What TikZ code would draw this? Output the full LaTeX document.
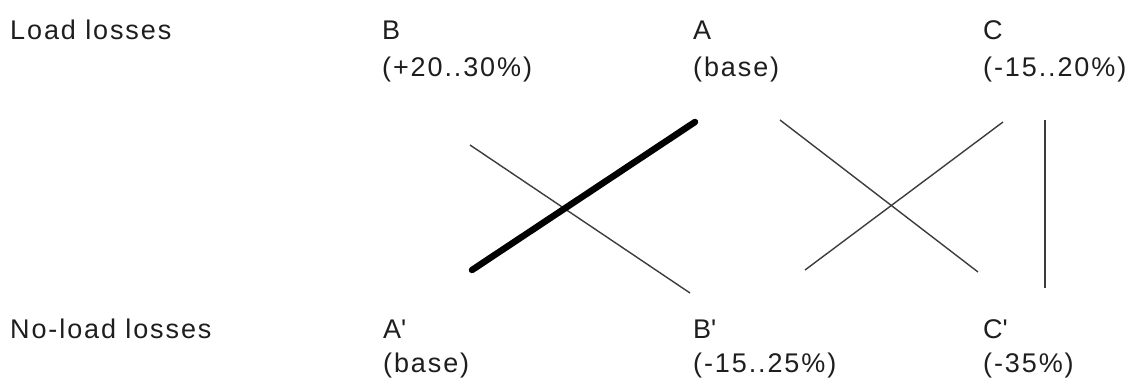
\documentclass[tikz,border=0pt]{standalone}
\usepackage{fontspec}
\setmainfont{Liberation Sans}[LetterSpace=7]
\usepackage{tikz}
\usetikzlibrary{positioning, calc}
\definecolor{lossdark}  {RGB}{ 30,  30,  30}
\definecolor{lossgrey}  {RGB}{ 60,  60,  60}

\tikzset{
	losstext/.style={anchor=base west, inner sep=0pt, font=\fontsize{27}{32}\selectfont, text=lossdark},
	thinlink/.style={line width=1.4pt, lossgrey},
	thicklink/.style={line width=6.5pt, black, line cap=round}
}

\begin{document}
\begin{tikzpicture}[x=1pt, y=-1pt]
				\useasboundingbox (0,0) rectangle (1141,382);
				% rows of labels
				\node[losstext] (load)   at (10,40)  {Load losses};
				\node[losstext] (noload) at (10,338) {No-load losses};
				\node[losstext] (B)  at (382,40) {B};
				\node[losstext] (Bv) at (382,77) {(+20..30\%)};
				\node[losstext] (A)  at (693,40) {A};
				\node[losstext] (Av) at (693,77) {(base)};
				\node[losstext] (C)  at (983,40) {C};
				\node[losstext] (Cv) at (983,77) {(-15..20\%)};
				\node[losstext] (A1)  at (383,338) {A\textquotesingle};
				\node[losstext] (A1v) at (383,372) {(base)};
				\node[losstext] (B1)  at (693,338) {B\textquotesingle};
				\node[losstext] (B1v) at (693,372) {(-15..25\%)};
				\node[losstext] (C1)  at (983,338) {C\textquotesingle};
				\node[losstext] (C1v) at (983,372) {(-35\%)};
				% line ends
				\coordinate (tB) at (470,145);  \coordinate (bB) at (690,293);
				\coordinate (tA) at (695,122);  \coordinate (bA) at (472,270);
				\coordinate (tA2) at (780,120); \coordinate (bC) at (978,272);
				\coordinate (tC) at (1003,122); \coordinate (bB2) at (805,270);
				\coordinate (tC2) at (1045,120); \coordinate (bC2) at (1045,288);
				\draw[thinlink] (tB)--(bB);
				\draw[thinlink] (tA2)--(bC);
				\draw[thinlink] (bB2)--(tC);
				\draw[thinlink] (tC2)--(bC2);
				\draw[thicklink] (bA)--(tA);
			\end{tikzpicture}
\end{document}
